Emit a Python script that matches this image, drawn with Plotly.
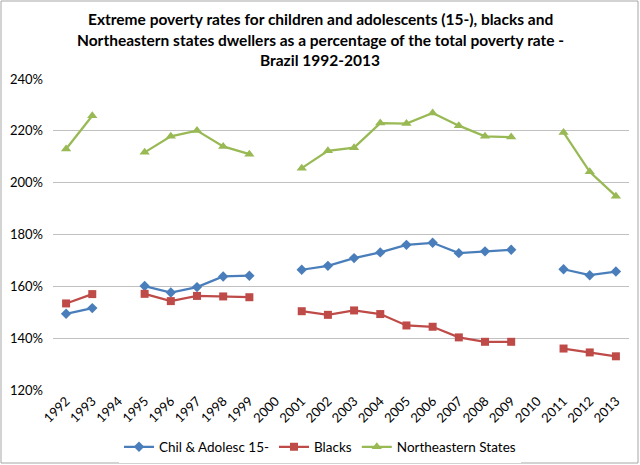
import plotly.graph_objects as go

years = list(range(1992, 2014))

# values, None = no survey that year
chil_adolesc = [149.4, 151.6, None, 160.1, 157.6, 159.7, 163.8, 164.1, None, 166.4, 167.9,
                170.9, 173.1, 176.0, 176.8, 172.8, 173.5, 174.1, None, 166.6, 164.3, 165.7]
blacks = [153.4, 157.0, None, 157.1, 154.3, 156.3, 156.1, 155.8, None, 150.4, 149.0,
          150.7, 149.3, 144.9, 144.4, 140.3, 138.6, 138.6, None, 136.0, 134.5, 133.0]
northeast = [213.0, 225.8, None, 211.7, 217.9, 220.1, 214.0, 211.0, None, 205.6, 212.3,
             213.5, 223.0, 222.8, 226.9, 222.0, 217.9, 217.6, None, 219.4, 204.2, 194.8]

series = [
    ("Chil & Adolesc 15-", chil_adolesc, "#4a7ebb", "diamond", 8),
    ("Blacks", blacks, "#be4b48", "square", 8),
    ("Northeastern States", northeast, "#98b954", "triangle-up", 9),
]

title_lines = [
    "Extreme poverty rates for children and adolescents (15-), blacks and",
    "Northeastern states dwellers as a percentage of the total poverty rate -",
    "Brazil 1992-2013",
]

fig = go.Figure()
for name, vals, color, symbol, size in series:
    fig.add_trace(go.Scatter(
        x=years, y=vals, name=name, mode="lines+markers",
        line=dict(color=color, width=2.25),
        marker=dict(symbol=symbol, size=size, color=color),
        connectgaps=False,
    ))

W, H = 640, 465
L, R, T, B = 53, 11, 79, 75

# chart border around the whole picture
fig.add_shape(type="rect", xref="paper", yref="paper",
              x0=-(L - 1) / (W - L - R), x1=1 + (R - 2) / (W - L - R),
              y0=-(B - 2) / (H - T - B), y1=1 + (T - 1) / (H - T - B),
              line=dict(color="#a6a6a6", width=1))

# title, one annotation per line to get Excel's line spacing
for i, line in enumerate(title_lines):
    fig.add_annotation(text=line, xref="paper", yref="paper",
                       x=(320 - L) / (W - L - R), y=1 + (T - 19 - 20.5 * i) / (H - T - B),
                       xanchor="center", yanchor="middle", showarrow=False,
                       font=dict(family="Lato", size=15.5, color="#000000", weight="bold"))

fig.update_layout(
    width=W, height=H,
    margin=dict(l=L, r=R, t=T, b=B, autoexpand=False),
    paper_bgcolor="white", plot_bgcolor="white",
    font=dict(family="Lato", size=13, color="#000000"),
    xaxis=dict(
        range=[1991.5, 2013.5], tickvals=years, ticktext=[str(y) for y in years],
        tickangle=-45, showgrid=False, zeroline=False, showline=False,
        tickfont=dict(size=13), automargin=False,
    ),
    yaxis=dict(
        range=[120, 240], dtick=20, ticksuffix="%",
        showgrid=True, gridcolor="#c0c0c0", gridwidth=1,
        zeroline=False, showline=False, tickfont=dict(size=13),
        ticklabelstandoff=9, automargin=False,
    ),
    legend=dict(orientation="h", xref="container", yref="container",
                x=0.5, xanchor="center", y=1 - 447 / H, yanchor="middle",
                font=dict(size=13.5), itemwidth=30, tracegroupgap=0),
    showlegend=True,
)

# the page body has a default 8px margin; drop it so the figure sits at 0,0
fig.write_html("out.html", config={"displayModeBar": False},
               post_script="document.body.style.margin='0';")
